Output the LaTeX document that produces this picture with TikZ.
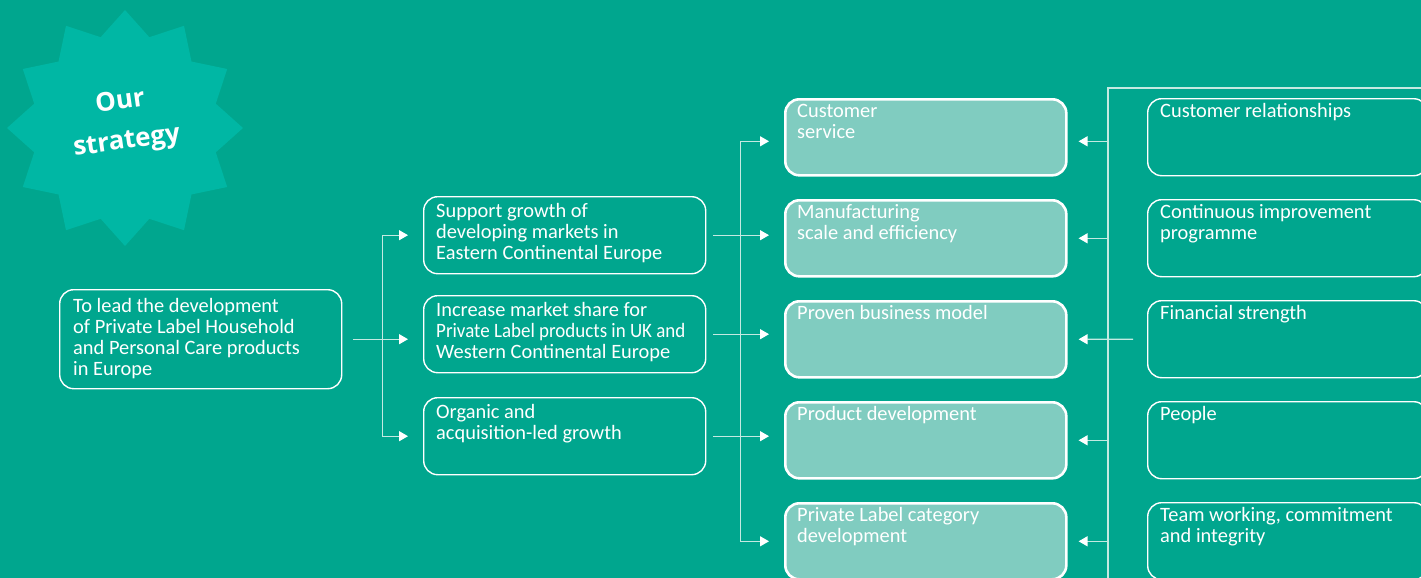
\documentclass[tikz,border=0pt]{standalone}
\usepackage{fontspec}
\setmainfont{Carlito}
\newfontfamily\starfont{Open Sans}
\usetikzlibrary{arrows.meta,calc}
\definecolor{bg}{RGB}{0,166,142}
\definecolor{starfill}{RGB}{0,183,164}
\definecolor{cellfill}{RGB}{128,204,192}
\definecolor{linec}{RGB}{196,234,226}
% stacked, left-aligned lines whose baseline is that of the first line
\newcommand\txtlines[1]{\vtop{\baselineskip=21pt\lineskiplimit=-30pt\halign{##\hfil\cr#1\crcr}}}
\begin{document}
\begin{tikzpicture}[x=1pt,y=-1pt,
  font=\fontsize{20.4}{21}\selectfont,
  box/.style={draw=white, line width=1.4pt, rounded corners=14pt,
    minimum width=282pt, minimum height=77pt, inner sep=0pt, anchor=north west},
  keybox/.style={box, fill=cellfill, line width=2.6pt, minimum width=281pt, minimum height=76pt},
  sidebox/.style={box, minimum width=280pt, minimum height=77pt},
  txt/.style={anchor=base west, inner sep=0pt, text=white},
  badgetxt/.style={text=white, rotate=8, inner sep=0pt,
    font=\starfont\bfseries\fontsize{26}{36}\selectfont},
  conn/.style={draw=linec, line width=1.3pt},
  arr/.style={conn, -{Triangle[length=9pt,width=10pt,color=white]}}]
\useasboundingbox (0,0) rectangle (1421,578);
\fill[bg] (0,0) rectangle (1421,578);
\clip (0,0) rectangle (1421,578);

% badge
\fill[starfill, shift={(125,128)}] plot[samples at={0,...,23}]
  ({90+15*\x}:{118-24*mod(\x,2)}) -- cycle;
\node[badgetxt] (badge1) at (120,100) {Our};
\node[badgetxt] (badge2) at (127,143) {strategy};

% aim
\node[box, minimum height=99pt] (L) at (59,289) {};
\node[txt] (Lt) at ($(L.north west)+(14,23)$) {\txtlines{To lead the development\cr of Private Label Household\cr and Personal Care products\cr in Europe}};

% objectives
\node[box] (M1) at (423,196) {};
\node[box] (M2) at (423,295) {};
\node[box] (M3) at (423,397) {};
\node[txt] (M1t) at ($(M1.north west)+(13,21)$) {\txtlines{Support growth of\cr developing markets in\cr Eastern Continental Europe}};
\node[txt] (M2t) at ($(M2.north west)+(13,21)$) {\txtlines{Increase market share for\cr \scalebox{0.93}[1]{Private Label products in UK and}\cr Western Continental Europe}};
\node[txt] (M3t) at ($(M3.north west)+(13,21)$) {\txtlines{Organic and\cr acquisition-led growth}};

% key elements
\node[keybox] (C1) at (784,98) {};
\node[keybox] (C2) at (784,199) {};
\node[keybox] (C3) at (784,300) {};
\node[keybox] (C4) at (784,401) {};
\node[keybox] (C5) at (784,502) {};
\node[txt] (C1t) at ($(C1.north west)+(13,19)$) {\txtlines{Customer\cr service}};
\node[txt] (C2t) at ($(C2.north west)+(13,19)$) {\txtlines{Manufacturing\cr scale and efficiency}};
\node[txt] (C3t) at ($(C3.north west)+(13,19)$) {\txtlines{Proven business model}};
\node[txt] (C4t) at ($(C4.north west)+(13,19)$) {\txtlines{Product development}};
\node[txt] (C5t) at ($(C5.north west)+(13,19)$) {\txtlines{Private Label category\cr development}};

% foundations
\node[sidebox] (R1) at (1147,98) {};
\node[sidebox] (R2) at (1147,199) {};
\node[sidebox] (R3) at (1147,300) {};
\node[sidebox] (R4) at (1147,401) {};
\node[sidebox] (R5) at (1147,502) {};
\node[txt] (R1t) at ($(R1.north west)+(13,19)$) {\txtlines{Customer relationships}};
\node[txt] (R2t) at ($(R2.north west)+(13,19)$) {\txtlines{Continuous improvement\cr programme}};
\node[txt] (R3t) at ($(R3.north west)+(13,19)$) {\txtlines{Financial strength}};
\node[txt] (R4t) at ($(R4.north west)+(13,19)$) {\txtlines{People}};
\node[txt] (R5t) at ($(R5.north west)+(13,19)$) {\txtlines{Team working, commitment\cr and integrity}};

% aim -> objectives
\coordinate (ja) at ($(L.east)+(40,0)$);
\draw[arr, shorten <=11pt, shorten >=15pt] (L.east) -- (L.east -| M2.west);
\draw[arr, shorten >=15pt] (ja) |- (M1.west);
\draw[arr, shorten >=15pt] (ja) |- (M3.west);

% objectives -> key elements
\coordinate (jb) at ($(M2.east)+(34,0)$);
\coordinate (c1w) at ([yshift=-4pt]C1.west);
\coordinate (c1e) at ([yshift=-4pt]C1.east);
\draw[arr, shorten <=7pt, shorten >=15pt] (M1.east) -- (M1.east -| C2.west);
\draw[arr, shorten <=7pt, shorten >=15pt] (M2.east) -- (M2.east -| C3.west);
\draw[arr, shorten <=7pt, shorten >=15pt] (M3.east) -- (M3.east -| C4.west);
\draw[arr, shorten >=15pt] (jb) |- (c1w);
\draw[arr, shorten >=15pt] (jb) |- (C5.west);

% foundations -> key elements
\coordinate (tl) at (1108,88);
\coordinate (tr) at (1421,88);
\coordinate (bl) at (1108,578);
\draw[conn] (tr) -- (tl) -- (bl);
\draw[arr, shorten >=11pt] (tl |- c1e) -- (c1e);
\draw[arr, shorten >=11pt] (tl |- C2.east) -- (C2.east);
\draw[arr, shorten <=14pt, shorten >=11pt] (R3.west) -- (C3.east);
\draw[arr, shorten >=11pt] (tl |- C4.east) -- (C4.east);
\draw[arr, shorten >=11pt] (tl |- C5.east) -- (C5.east);
\end{tikzpicture}
\end{document}
